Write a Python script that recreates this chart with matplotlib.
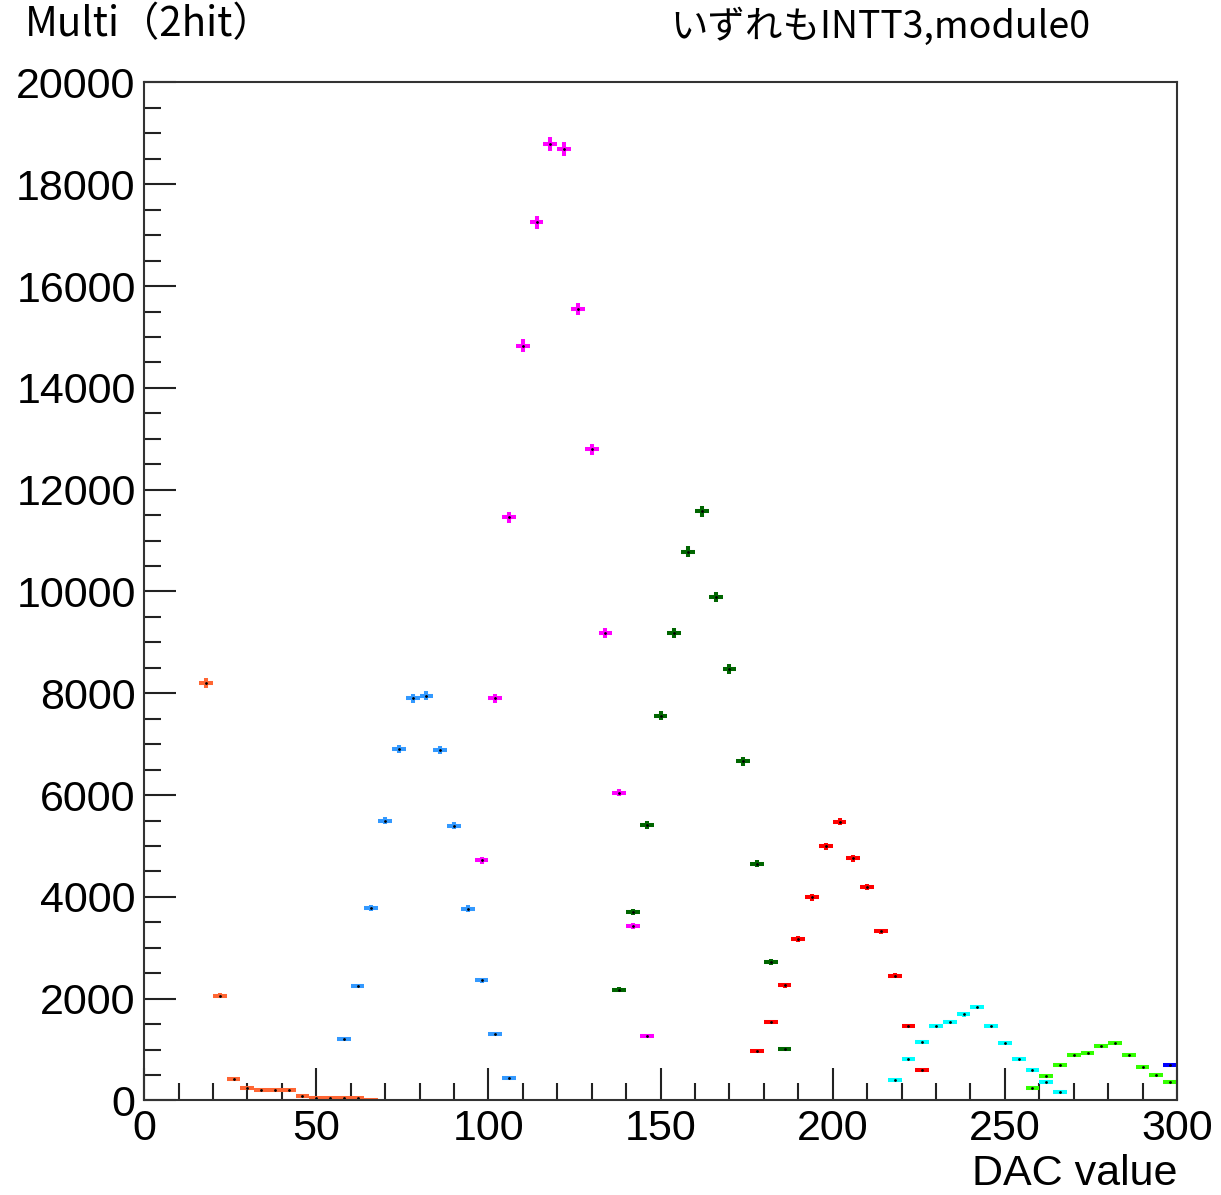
"""Multi (2hit) DAC scan histograms, INTT3 module0."""

import matplotlib
matplotlib.use("Agg")
import matplotlib.pyplot as plt
import numpy as np
from matplotlib.ticker import MultipleLocator

# bin centres (bin width 4) and counts for each scan
orange_x = [18, 22, 26, 30, 34, 38, 42, 46, 50, 54, 58, 62, 66]
orange_y = [8200, 2060, 430, 250, 200, 200, 200, 90, 40, 40, 40, 40, 10]

azure_x = [58, 62, 66, 70, 74, 78, 82, 86, 90, 94, 98, 102, 106]
azure_y = [1200, 2250, 3780, 5500, 6900, 7900, 7950, 6880, 5400, 3770, 2360, 1300, 440]

magenta_x = [98, 102, 106, 110, 114, 118, 122, 126, 130, 134, 138, 142, 146]
magenta_y = [4720, 7900, 11460, 14830, 17250, 18800, 18700, 15550, 12790, 9190, 6050, 3430, 1270]

dgreen_x = [138, 142, 146, 150, 154, 158, 162, 166, 170, 174, 178, 182, 186]
dgreen_y = [2180, 3700, 5410, 7560, 9190, 10780, 11580, 9890, 8480, 6660, 4650, 2720, 1010]

red_x = [178, 182, 186, 190, 194, 198, 202, 206, 210, 214, 218, 222, 226]
red_y = [970, 1540, 2260, 3170, 3990, 4990, 5480, 4760, 4190, 3320, 2450, 1460, 590]

cyan_x = [218, 222, 226, 230, 234, 238, 242, 246, 250, 254, 258, 262, 266]
cyan_y = [400, 820, 1150, 1460, 1540, 1690, 1840, 1460, 1120, 820, 590, 360, 170]

lime_x = [258, 262, 266, 270, 274, 278, 282, 286, 290, 294, 298]
lime_y = [250, 480, 700, 890, 930, 1080, 1120, 890, 660, 510, 360]

blue_x = [298]
blue_y = [700]

series = [
    (orange_x, orange_y, "#ff6633"),
    (azure_x, azure_y, "#3399ff"),
    (magenta_x, magenta_y, "#ff00ff"),
    (dgreen_x, dgreen_y, "#006600"),
    (red_x, red_y, "#ff0000"),
    (cyan_x, cyan_y, "#00ffff"),
    (lime_x, lime_y, "#33ff00"),
    (blue_x, blue_y, "#0000ff"),
]

plt.rcParams["font.family"] = ["Liberation Sans", "DejaVu Sans"]

fig = plt.figure(figsize=(12.21, 11.95), dpi=100)
ax = fig.add_axes([0.1180, 0.0791, 0.8460, 0.8519])

for xs, ys, col in series:
    xs = np.array(xs, dtype=float)
    ys = np.array(ys, dtype=float)
    ax.errorbar(xs, ys, xerr=2, yerr=np.sqrt(ys), fmt="none",
                ecolor=col, elinewidth=2.9, capsize=0)
    ax.plot(xs, ys, ".", color="black", markersize=2)

ax.set_xlim(0, 300)
ax.set_ylim(0, 20000)
ax.xaxis.set_major_locator(MultipleLocator(50))
ax.xaxis.set_minor_locator(MultipleLocator(10))
ax.yaxis.set_major_locator(MultipleLocator(2000))
ax.yaxis.set_minor_locator(MultipleLocator(500))
ax.tick_params(which="both", direction="in", top=False, right=False,
               width=1.5, color="#222222", labelsize=31)
ax.tick_params(which="major", length=23, pad=6)
ax.tick_params(which="minor", length=12)
for sp in ax.spines.values():
    sp.set_linewidth(1.5)
    sp.set_color("#333333")

ax.set_xlabel("DAC value", fontsize=31, loc="right", labelpad=4)

jp = ["Noto Sans CJK JP", "DejaVu Sans"]
fig.text(0.020, 0.979, "Multi（2hit）", fontsize=29, family=jp,
         ha="left", va="center")
fig.text(0.549, 0.977, "いずれもINTT3,module0", fontsize=27, family=jp,
         ha="left", va="center")

fig.savefig("out.png", dpi=100)
plt.close(fig)
